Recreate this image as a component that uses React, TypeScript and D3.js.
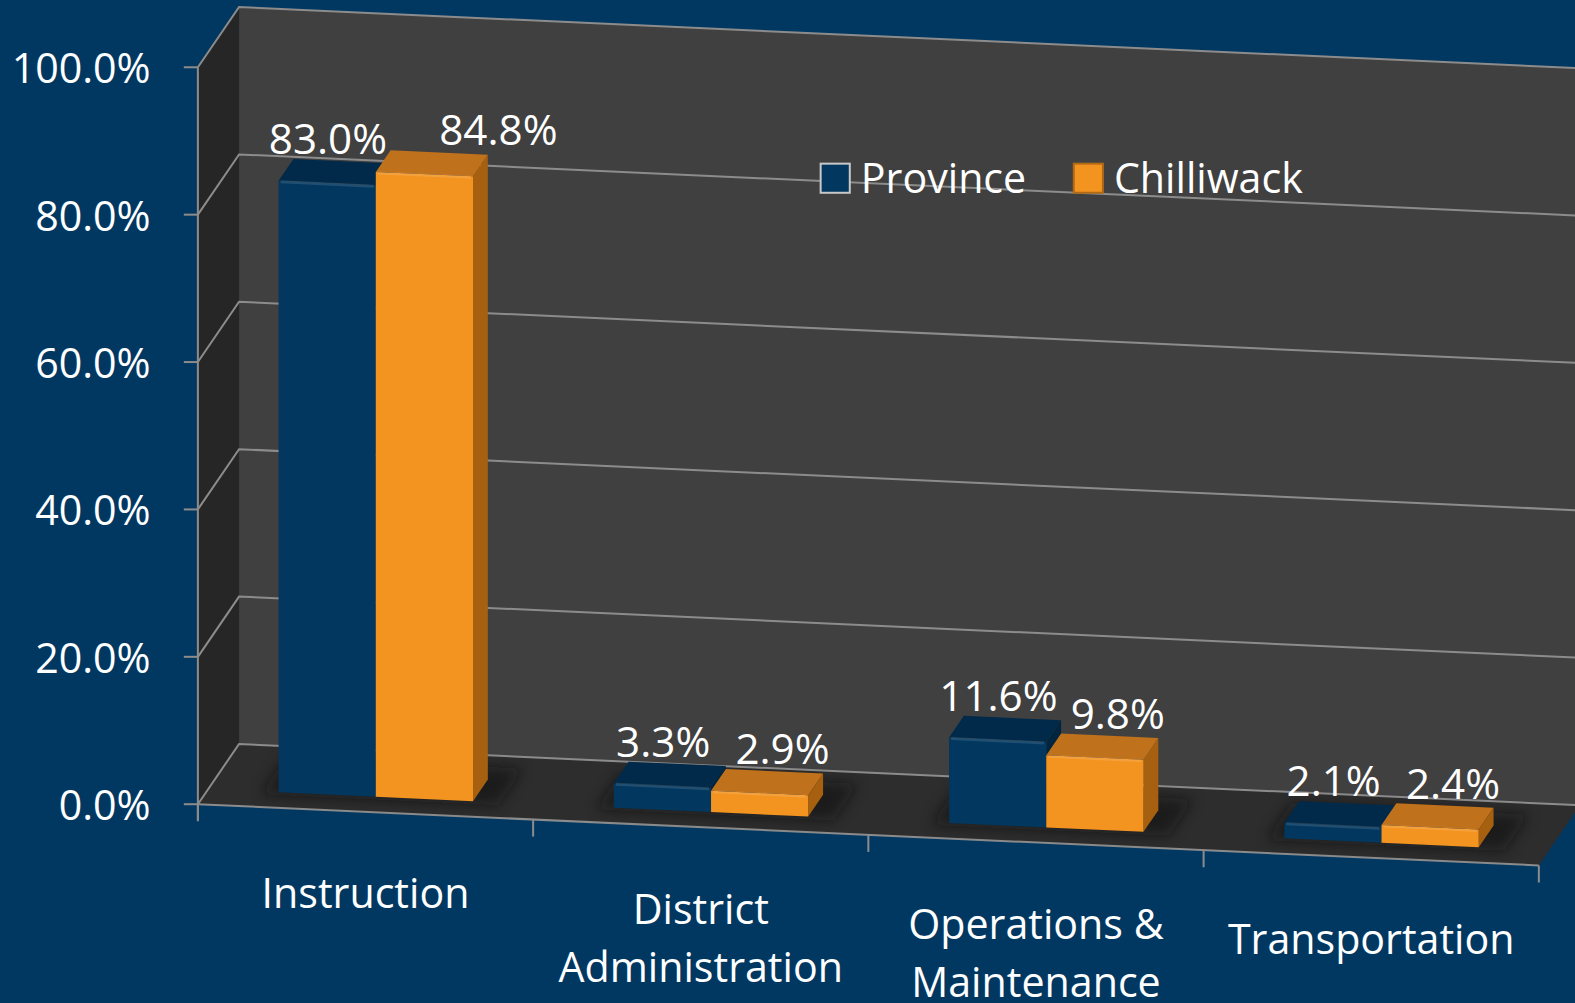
import React, { useRef, useEffect } from "react";
import * as d3 from "d3";

// data
const categories = ["Instruction", "District Administration", "Operations & Maintenance", "Transportation"];
const categoryLines = [["Instruction"], ["District", "Administration"], ["Operations &", "Maintenance"], ["Transportation"]];
const seriesNames = ["Province", "Chilliwack"];
const province = [83.0, 3.3, 11.6, 2.1];
const chilliwack = [84.8, 2.9, 9.8, 2.4];
const yTicks = [0, 20, 40, 60, 80, 100];

const W = 1575;
const H = 1003;
const FONT = "'Open Sans', 'DejaVu Sans', sans-serif";

const BG = "#013862";
const colors = [
  { front: "#02375f", top: "#012a4a", side: "#01243f" },
  { front: "#f39320", top: "#c0711b", side: "#a6600f" },
];

const App = () => {
  const svgRef = useRef<SVGSVGElement>(null);

  useEffect(() => {
    const root = d3.select(svgRef.current);
    root.selectAll("*").remove();

    // oblique projection: u along categories, v value, w depth (0 front, 1 back)
    const ox = 197, oy = 801;
    const ux = 1335, uy = 61;
    const dx = 41, dy = -60;
    const yScale = d3.scaleLinear().domain([0, 100]).range([0, 734]);
    const P = (u: number, v: number, w: number): [number, number] => [
      ox + ux * u + dx * w,
      oy + uy * u - yScale(v) + dy * w,
    ];
    const poly = (pts: [number, number][]) => pts.map((p) => p.join(",")).join(" ");

    const x0 = d3.scaleBand<string>().domain(categories).range([0, 1]).paddingInner(0.42).paddingOuter(0.21);
    const x1 = d3.scaleBand<string>().domain(seriesNames).range([0, x0.bandwidth()]);
    const wFront = 0.25, wBack = 0.61;

    const defs = root.append("defs");
    defs.append("filter").attr("id", "shd").attr("x", "-20%").attr("y", "-50%").attr("width", "140%").attr("height", "200%")
      .append("feGaussianBlur").attr("stdDeviation", 7);

    root.append("rect").attr("width", W).attr("height", H).attr("fill", BG);
    const svg = root.append("g").attr("transform", `scale(${W / 1568},${H / 999})`);

    // walls
    svg.append("polygon").attr("points", poly([P(0, 100, 1), P(1.03, 100, 1), P(1.03, 0, 1), P(0, 0, 1)])).attr("fill", "#404040");
    svg.append("polygon").attr("points", poly([P(0, 100, 0), P(0, 100, 1), P(0, 0, 1), P(0, 0, 0)])).attr("fill", "#262626");
    svg.append("polygon").attr("points", poly([P(0, 0, 0), P(0, 0, 1), P(1, 0, 1), P(1, 0, 0)])).attr("fill", "#2d2d2d");

    const grid = "#8c8c8c";
    yTicks.forEach((t) => {
      const a = P(0, t, 0), b = P(0, t, 1), c = P(1.03, t, 1);
      svg.append("polyline").attr("points", poly([a, b, c])).attr("fill", "none").attr("stroke", grid).attr("stroke-width", 2);
      svg.append("line").attr("x1", a[0] - 14).attr("x2", a[0]).attr("y1", a[1]).attr("y2", a[1]).attr("stroke", grid).attr("stroke-width", 2);
      svg.append("text").attr("x", 150).attr("y", a[1]).attr("text-anchor", "end").attr("dominant-baseline", "central")
        .attr("font-family", FONT).attr("font-size", 41).attr("fill", "#fff").text(d3.format(".1f")(t) + "%");
    });
    // axis lines
    const f0 = P(0, 0, 0), f1 = P(1, 0, 0), t0 = P(0, 100, 0);
    svg.append("line").attr("x1", t0[0]).attr("y1", t0[1]).attr("x2", f0[0]).attr("y2", f0[1] + 16).attr("stroke", grid).attr("stroke-width", 2);
    svg.append("line").attr("x1", f0[0]).attr("y1", f0[1]).attr("x2", f1[0]).attr("y2", f1[1]).attr("stroke", grid).attr("stroke-width", 2);
    d3.range(categories.length + 1).forEach((i) => {
      const p = P(i / categories.length, 0, 0);
      svg.append("line").attr("x1", p[0]).attr("x2", p[0]).attr("y1", p[1]).attr("y2", p[1] + 17).attr("stroke", grid).attr("stroke-width", 2);
    });

    // shadows
    categories.forEach((c) => {
      const u0 = x0(c)! - 0.012, u1 = x0(c)! + x0.bandwidth() + 0.02;
      svg.append("polygon").attr("points", poly([P(u0, 0, wFront - 0.04), P(u0, 0, wBack + 0.2), P(u1, 0, wBack + 0.2), P(u1, 0, wFront - 0.04)]))
        .attr("fill", "#111").attr("opacity", 0.55).attr("filter", "url(#shd)");
    });

    // bars
    const series = [province, chilliwack];
    const labelInfo: { x: number; y: number; s: number; c: number; text: string }[] = [];
    categories.forEach((c, ci) => {
      series.forEach((vals, si) => {
        const v = vals[ci];
        const ua = x0(c)! + x1(seriesNames[si])!;
        const ub = ua + x1.bandwidth();
        const col = colors[si];
        // side
        svg.append("polygon").attr("points", poly([P(ub, 0, wFront), P(ub, v, wFront), P(ub, v, wBack), P(ub, 0, wBack)])).attr("fill", col.side);
        // front
        svg.append("polygon").attr("points", poly([P(ua, 0, wFront), P(ua, v, wFront), P(ub, v, wFront), P(ub, 0, wFront)])).attr("fill", col.front);
        // top
        svg.append("polygon").attr("points", poly([P(ua, v, wFront), P(ua, v, wBack), P(ub, v, wBack), P(ub, v, wFront)])).attr("fill", col.top);
        // bevel highlight
        const e0 = P(ua, v, wFront), e1 = P(ub, v, wFront);
        svg.append("line").attr("x1", e0[0] + 2).attr("y1", e0[1] + 1).attr("x2", e1[0] - 2).attr("y2", e1[1] + 1)
          .attr("stroke", "#fff").attr("stroke-opacity", 0.12).attr("stroke-width", 3);
        const tc = P((ua + ub) / 2, v, wBack);
        labelInfo.push({ x: tc[0], y: tc[1] - 7, s: si, c: ci, text: d3.format(".1f")(v) + "%" });
      });
    });

    // data labels
    const labels = svg.append("g").attr("font-family", FONT).attr("font-size", 42).attr("fill", "#fff");
    categories.forEach((c, ci) => {
      const [a, b] = labelInfo.filter((l) => l.c === ci);
      const ta = labels.append("text").attr("x", a.x - 14).attr("y", a.y).attr("text-anchor", "middle").text(a.text);
      const tb = labels.append("text").attr("x", b.x + 8).attr("y", b.y).attr("text-anchor", "middle").text(b.text);
      const wa = (ta.node() as SVGTextElement).getComputedTextLength();
      const wb = (tb.node() as SVGTextElement).getComputedTextLength();
      const rightA = a.x - 14 + wa / 2;
      const leftB = b.x + 8 - wb / 2;
      // push overlapping label to the right
      if (leftB - rightA < 4 && Math.abs(a.y - b.y) < 40) {
        tb.attr("x", b.x).attr("text-anchor", "start");
      }
    });

    // category labels
    categoryLines.forEach((lines, ci) => {
      const uc = x0(categories[ci])! + x0.bandwidth() / 2;
      const p = P(uc, 0, 0);
      const cx = ox + ux * (ci + 0.5) / categories.length;
      const t = svg.append("text").attr("font-family", FONT).attr("font-size", 41).attr("fill", "#fff").attr("text-anchor", "middle");
      lines.forEach((ln, li) => {
        t.append("tspan").attr("x", cx).attr("y", p[1] + 96 + li * 58).text(ln);
      });
    });

    // legend
    const lg = svg.append("g").attr("font-family", FONT).attr("font-size", 41).attr("fill", "#fff");
    const legendX = [817, 1069];
    seriesNames.forEach((n, i) => {
      lg.append("rect").attr("x", legendX[i]).attr("y", 163).attr("width", 29).attr("height", 29)
        .attr("fill", colors[i].front).attr("stroke", i === 0 ? "#c8c8c8" : "#b06a14").attr("stroke-width", 2);
      lg.append("text").attr("x", legendX[i] + 40).attr("y", 192).text(n);
    });
  }, []);

  return (
    <svg ref={svgRef} width={W} height={H} style={{ position: "absolute", left: 0, top: 0 }} />
  );
};

export default App;
